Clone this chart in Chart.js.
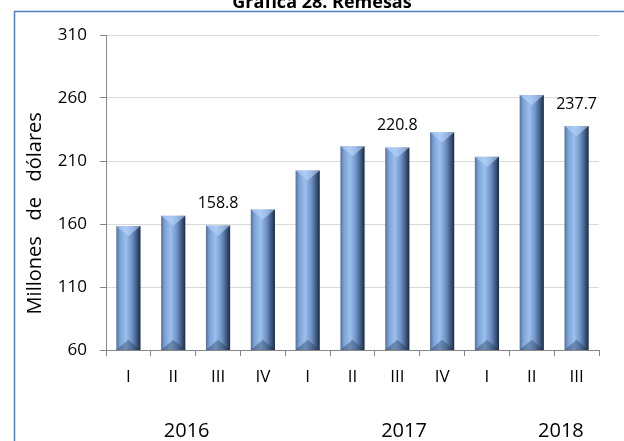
<!DOCTYPE html>
<html>
<head>
<meta charset="utf-8">
<script src="https://cdn.jsdelivr.net/npm/chart.js@4/dist/chart.umd.min.js"></script>
<style>
  html, body { margin: 0; padding: 0; background: #fff; }
  #wrap { position: relative; width: 624px; height: 441px; }
</style>
</head>
<body>
<div id="wrap"><canvas id="remesasChart"></canvas></div>
<script>
// Data
const quarters = ['I', 'II', 'III', 'IV', 'I', 'II', 'III', 'IV', 'I', 'II', 'III'];
const remesas = [158.4, 166.6, 158.8, 171.6, 202.5, 221.8, 220.8, 232.8, 213.4, 262.4, 237.7];
const labelledBars = [2, 6, 10];
const years = ['2016', '2017', '2018'];
const yearTicks = [1.3, 6.15, 9.65];

const FONT = "'Open Sans', 'DejaVu Sans', sans-serif";

// horizontal gradient across each bar
function barGradient(context) {
    const chart = context.chart;
    const x = chart.scales.x;
    if (!x || !chart.chartArea) return '#7ea4d8';
    const cx = x.getPixelForValue(context.dataIndex);
    const half = (x.width / quarters.length) * 0.54 / 2;
    const g = chart.ctx.createLinearGradient(cx - half, 0, cx + half, 0);
    g.addColorStop(0, '#4d72a4');
    g.addColorStop(0.15, '#7ca2d6');
    g.addColorStop(0.4, '#9bc0ee');
    g.addColorStop(0.65, '#6f93c6');
    g.addColorStop(0.85, '#40597f');
    g.addColorStop(1, '#1d2a3c');
    return g;
}

// frame and title
const framePlugin = {
    id: 'frame',
    beforeDraw(chart) {
        const ctx = chart.ctx;
        ctx.save();
        ctx.fillStyle = '#fff';
        ctx.fillRect(0, 0, chart.width, chart.height);
        ctx.strokeStyle = '#4f81bd';
        ctx.lineWidth = 1.5;
        ctx.beginPath();
        ctx.moveTo(14.5, chart.height);
        ctx.lineTo(14.5, 11.5);
        ctx.lineTo(chart.width, 11.5);
        ctx.stroke();
        ctx.restore();
    },
    afterDraw(chart) {
        const ctx = chart.ctx;
        ctx.save();
        ctx.font = 'bold 18px ' + FONT;
        ctx.fillStyle = '#000';
        ctx.textAlign = 'center';
        ctx.textBaseline = 'alphabetic';
        ctx.fillText('Gráfica 28. Remesas', 322, 8);
        ctx.restore();
    }
};

// bevel look + value labels
const barExtras = {
    id: 'barExtras',
    afterDatasetsDraw(chart) {
        const ctx = chart.ctx;
        const meta = chart.getDatasetMeta(0);
        const bottom = chart.chartArea.bottom;
        ctx.save();
        meta.data.forEach((bar) => {
            const l = bar.x - bar.width / 2;
            const r = bar.x + bar.width / 2;
            const h = bar.width * 0.42;
            const base = Math.min(bar.base, bottom);
            ctx.fillStyle = 'rgba(185, 212, 250, 0.6)';
            ctx.beginPath();
            ctx.moveTo(l, bar.y);
            ctx.lineTo(r, bar.y);
            ctx.lineTo(bar.x, bar.y + h);
            ctx.closePath();
            ctx.fill();
            ctx.fillStyle = 'rgba(25, 40, 65, 0.35)';
            ctx.beginPath();
            ctx.moveTo(l, base);
            ctx.lineTo(r, base);
            ctx.lineTo(bar.x, base - h);
            ctx.closePath();
            ctx.fill();
        });
        ctx.font = '16px ' + FONT;
        ctx.fillStyle = '#000';
        ctx.textAlign = 'center';
        ctx.textBaseline = 'middle';
        labelledBars.forEach(i => {
            const bar = meta.data[i];
            ctx.fillText(remesas[i].toFixed(1), bar.x, bar.y - 22);
        });
        ctx.restore();
    }
};

const ctx = document.getElementById('remesasChart').getContext('2d');
const remesasChart = new Chart(ctx, {
    type: 'bar',
    data: {
        labels: quarters,
        datasets: [{
            data: remesas,
            backgroundColor: barGradient,
            borderWidth: 0,
            categoryPercentage: 1,
            barPercentage: 0.54
        }]
    },
    options: {
        responsive: true,
        maintainAspectRatio: false,
        animation: false,
        layout: {
            padding: { top: 35, right: 25, bottom: 0, left: 0 }
        },
        plugins: {
            legend: { display: false },
            tooltip: { enabled: false }
        },
        scales: {
            y: {
                min: 60,
                max: 310,
                ticks: {
                    stepSize: 50,
                    padding: 13,
                    color: '#000',
                    font: { family: FONT, size: 17 }
                },
                grid: {
                    color: '#d9d9d9',
                    tickColor: '#868686',
                    tickLength: 6
                },
                border: { color: '#868686' },
                title: {
                    display: true,
                    text: 'Millones   de   dólares        ',
                    color: '#000',
                    font: { family: FONT, size: 20 },
                    padding: { top: 23, bottom: 0 }
                },
                afterFit(scale) { scale.width = 106; }
            },
            x: {
                ticks: {
                    padding: 11,
                    color: '#000',
                    font: { family: FONT, size: 17 }
                },
                grid: {
                    offset: true,
                    drawOnChartArea: false,
                    tickColor: '#868686',
                    tickLength: 6
                },
                border: { color: '#868686' },
                afterFit(scale) { scale.height = 40; }
            },
            x2: {
                type: 'linear',
                position: 'bottom',
                offset: false,
                beginAtZero: false,
                min: -0.5,
                max: quarters.length - 0.5,
                grid: { display: false, offset: false },
                border: { display: false },
                afterBuildTicks(scale) {
                    scale.ticks = yearTicks.map(v => ({ value: v }));
                },
                ticks: {
                    autoSkip: false,
                    maxRotation: 0,
                    padding: 21,
                    color: '#000',
                    font: { family: FONT, size: 20 },
                    callback: (value, index) => years[index]
                },
                afterFit(scale) { scale.height = 51; }
            }
        }
    },
    plugins: [framePlugin, barExtras]
});
</script>
</body>
</html>
